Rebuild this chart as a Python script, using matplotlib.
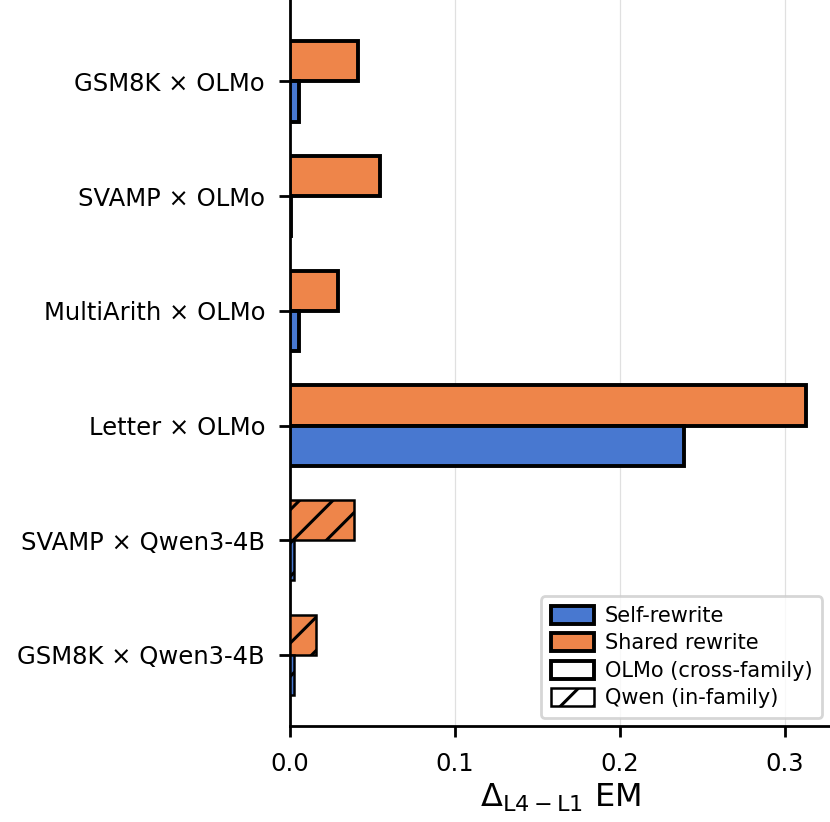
import matplotlib
matplotlib.use("Agg")
import matplotlib.pyplot as plt
from matplotlib.patches import Patch
import numpy as np

plt.rcParams["hatch.linewidth"] = 2.2

# ---- data ----
categories = ["GSM8K × OLMo", "SVAMP × OLMo", "MultiArith × OLMo", "Letter × OLMo",
              "SVAMP × Qwen3-4B", "GSM8K × Qwen3-4B"]
self_rewrite = [0.0055, 0.0004, 0.0055, 0.239, 0.0024, 0.0024]
shared_rewrite = [0.041, 0.0545, 0.029, 0.313, 0.0385, 0.016]
family = ["OLMo", "OLMo", "OLMo", "OLMo", "Qwen", "Qwen"]

BLUE = "#4878D0"
ORANGE = "#EE854A"

fig = plt.figure(figsize=(8.3, 8.22), dpi=100)
ax = fig.add_axes([290 / 830, 96 / 822, 540 / 830, 726 / 822])

y = np.arange(len(categories))
h = 0.35
for i, fam in enumerate(family):
    qwen = fam == "Qwen"
    lw = 1.8 if qwen else 2.8
    hatch = "/" if qwen else None
    ax.barh(y[i] - h / 2, shared_rewrite[i], height=h, color=ORANGE, edgecolor="black",
            linewidth=lw, hatch=hatch, zorder=3)
    ax.barh(y[i] + h / 2, self_rewrite[i], height=h, color=BLUE, edgecolor="black",
            linewidth=lw, hatch=hatch, zorder=3)

ax.set_yticks(y)
ax.set_yticklabels(categories, fontsize=17.5)
ax.set_ylim(len(categories) - 1 + 0.62, -0.71)
ax.set_xlim(0, 0.3273)
ax.set_xticks([0.0, 0.1, 0.2, 0.3])
ax.set_xticklabels(["0.0", "0.1", "0.2", "0.3"], fontsize=17.5)
ax.set_xlabel(r"$\Delta_{\mathrm{L4-L1}}$ EM", fontsize=23, labelpad=4)
ax.grid(axis="x", color="#e0e0e0", linewidth=0.9, zorder=0)
for s in ["top", "right"]:
    ax.spines[s].set_visible(False)
for s in ["left", "bottom"]:
    ax.spines[s].set_linewidth(2.0)
ax.tick_params(axis="both", length=8, width=2.0)
ax.tick_params(axis="x", pad=11)
ax.tick_params(axis="y", pad=10)

handles = [
    Patch(facecolor=BLUE, edgecolor="black", linewidth=2.8, label="Self-rewrite"),
    Patch(facecolor=ORANGE, edgecolor="black", linewidth=2.8, label="Shared rewrite"),
    Patch(facecolor="white", edgecolor="black", linewidth=2.8, label="OLMo (cross-family)"),
    Patch(facecolor="white", edgecolor="black", linewidth=1.8, hatch="/", label="Qwen (in-family)"),
]
leg = ax.legend(handles=handles, loc="lower right", fontsize=15, frameon=True,
                fancybox=True, handlelength=2.1, handleheight=0.95, borderaxespad=0.4,
                labelspacing=0.35, handletextpad=0.5, borderpad=0.45)
leg.get_frame().set_edgecolor("#cccccc")
leg.get_frame().set_linewidth(2.0)

fig.savefig("out.png", dpi=100)
